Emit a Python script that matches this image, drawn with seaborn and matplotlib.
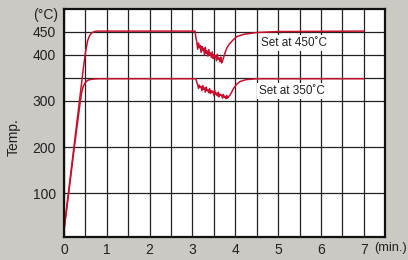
import pandas as pd
import seaborn as sns
import matplotlib.pyplot as plt

# time (min.) and temperature readings for the two set points
t450 = [0, 0.1, 0.23, 0.36, 0.45, 0.5, 0.55, 0.6, 0.66, 0.75, 1.0, 2.0, 3.0, 3.06, 3.08,
        3.10, 3.12, 3.14, 3.16, 3.18, 3.20, 3.22, 3.24, 3.26, 3.28, 3.30, 3.32, 3.34, 3.36,
        3.38, 3.40, 3.42, 3.44, 3.46, 3.48, 3.50, 3.52, 3.54, 3.56, 3.58, 3.60, 3.62, 3.64,
        3.66, 3.68, 3.70, 3.72, 3.76, 3.80, 3.86, 3.95, 4.03, 4.2, 4.5, 5.0, 7.0]
temp450 = [22, 100, 200, 300, 370, 405, 430, 442, 448, 451, 451, 451, 451, 451, 436,
           428, 412, 425, 415, 420, 405, 418, 409, 414, 400, 416, 403, 408, 397,
           411, 399, 404, 394, 406, 392, 400, 395, 398, 387, 401, 390, 393, 385,
           395, 382, 386, 392, 404, 414, 423, 432, 439, 444, 448, 450, 451]

t350 = [0, 0.1, 0.24, 0.37, 0.41, 0.45, 0.5, 0.56, 0.65, 0.8, 2.0, 3.08, 3.10,
        3.12, 3.14, 3.16, 3.18, 3.20, 3.22, 3.24, 3.26, 3.28, 3.30, 3.32, 3.34, 3.36,
        3.38, 3.40, 3.42, 3.44, 3.46, 3.48, 3.50, 3.52, 3.54, 3.56, 3.58, 3.60, 3.62,
        3.64, 3.66, 3.68, 3.70, 3.72, 3.74, 3.76, 3.78, 3.80, 3.82, 3.84,
        3.88, 3.92, 3.96, 4.03, 4.11, 4.25, 4.5, 7.0]
temp350 = [22, 95, 200, 292, 318, 332, 340, 345, 347, 348, 348, 348, 340,
           336, 327, 334, 329, 331, 322, 333, 325, 328, 319, 330, 322, 324,
           318, 327, 316, 322, 319, 321, 312, 323, 314, 317, 311, 319, 309,
           315, 312, 313, 306, 314, 308, 310, 305, 312, 306, 309,
           313, 320, 327, 336, 342, 346, 348, 348]

yticks = [100, 200, 300, 350, 400, 450]
ylabels = ['100', '200', '300', '', '400', '450']
xticks = [0, 1, 2, 3, 4, 5, 6, 7]

df = pd.concat([
    pd.DataFrame({'time': t450, 'temp': temp450, 'set': '450'}),
    pd.DataFrame({'time': t350, 'temp': temp350, 'set': '350'}),
])

red = '#c8102e'
bg = '#ccc8c4'
ink = '#222222'

sns.set_style('white')
plt.rcParams['font.family'] = ['Liberation Sans', 'DejaVu Sans']

fig = plt.figure(figsize=(4.08, 2.6), dpi=100, facecolor=bg)
ax = fig.add_axes([0.157, 0.087, 0.787, 0.877])
ax.set_facecolor('white')

sns.lineplot(data=df, x='time', y='temp', hue='set', palette={'450': red, '350': red},
             estimator=None, sort=False, legend=False, linewidth=1.1, ax=ax)

ax.set_xlim(0, 7.5)
ax.set_ylim(5, 498)
ax.set_xticks(xticks)
ax.set_xticks([x + 0.5 for x in xticks], minor=True)
ax.set_yticks(yticks)
ax.set_yticklabels(ylabels)
ax.grid(True, which='both', color=ink, linewidth=0.9)
ax.tick_params(axis='both', which='both', length=0, labelsize=10, colors=ink)
ax.tick_params(axis='x', pad=4)
ax.tick_params(axis='y', pad=6)

for s in ax.spines.values():
    s.set_color('#111111')
    s.set_linewidth(1.6)

ax.set_xlabel('')
ax.set_ylabel('Temp.', fontsize=10, color=ink)
ax.yaxis.set_label_coords(-0.135, 0.44)

ax.text(-0.02, 486, '(°C)', transform=ax.get_yaxis_transform(), ha='right', va='center',
        fontsize=10, color=ink)
ax.text(7.24, -0.047, '(min.)', transform=ax.get_xaxis_transform(), ha='left', va='center',
        fontsize=9.3, color=ink)

box = dict(facecolor='white', edgecolor='none', pad=1.5)
ax.text(4.6, 425, 'Set at 450˚C', fontsize=8.5, color=ink, va='center', bbox=box)
ax.text(4.55, 322, 'Set at 350˚C', fontsize=8.5, color=ink, va='center', bbox=box)

fig.savefig('out.png', dpi=100, facecolor=bg)
